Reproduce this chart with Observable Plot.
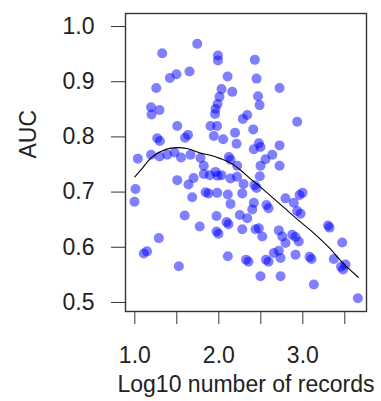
<!DOCTYPE html>
<html>
<head>
<meta charset="utf-8">
<script src="https://cdn.jsdelivr.net/npm/d3@7"></script>
<script src="https://cdn.jsdelivr.net/npm/@observablehq/plot@0.6"></script>
<style>
  html, body { margin: 0; padding: 0; background: #fff; }
  #chart svg { display: block; }
</style>
</head>
<body>
<div id="chart"></div>
<script>
// Per-dataset model performance: log10 of the number of records vs AUC
const logRecords = [
  1.743, 1.326, 1.990, 1.990, 2.429, 1.651, 1.496, 1.417, 2.104, 2.449,
  1.255, 2.032, 2.160, 2.723, 2.008, 2.467, 2.485, 1.985, 1.193, 1.294,
  1.199, 1.961, 1.955, 2.338, 2.286, 2.933, 1.505, 1.901, 1.979, 2.410,
  1.633, 1.598, 2.193, 1.940, 2.052, 1.267, 1.298, 2.211, 2.476, 2.417,
  2.496, 2.723, 1.036, 1.193, 1.294, 1.386, 1.473, 1.550, 1.663, 1.782,
  2.119, 2.139, 2.636, 2.556, 1.821, 2.219, 2.496, 2.723, 1.821, 1.893,
  1.961, 1.985, 2.032, 2.488, 2.139, 2.217, 2.294, 2.425, 2.449, 1.008,
  0.996, 1.505, 1.639, 1.699, 1.683, 1.842, 1.877, 1.981, 2.107, 2.279,
  2.139, 2.417, 2.398, 2.568, 2.592, 2.794, 2.893, 2.961, 2.996, 2.933,
  2.973, 1.594, 1.973, 2.092, 2.115, 2.250, 2.338, 1.773, 1.973, 1.996,
  2.279, 2.437, 2.476, 2.517, 2.714, 2.755, 2.794, 2.874, 2.913, 2.952,
  3.300, 3.318, 3.469, 1.286, 1.107, 1.145, 1.524, 2.107, 2.324, 2.354,
  2.562, 2.592, 2.714, 2.655, 2.735, 2.913, 3.080, 3.104, 3.369, 3.508,
  3.455, 3.479, 2.496, 2.735, 3.131, 3.655
];
const auc = [
  0.965, 0.948, 0.944, 0.935, 0.936, 0.915, 0.910, 0.903, 0.906, 0.902,
  0.885, 0.883, 0.878, 0.885, 0.869, 0.870, 0.854, 0.856, 0.850, 0.845,
  0.837, 0.847, 0.838, 0.836, 0.829, 0.824, 0.816, 0.816, 0.816, 0.810,
  0.800, 0.795, 0.804, 0.798, 0.792, 0.794, 0.789, 0.784, 0.785, 0.774,
  0.778, 0.781, 0.757, 0.764, 0.761, 0.764, 0.768, 0.759, 0.764, 0.758,
  0.760, 0.755, 0.764, 0.756, 0.744, 0.744, 0.744, 0.744, 0.729, 0.727,
  0.733, 0.726, 0.727, 0.725, 0.721, 0.724, 0.711, 0.709, 0.704, 0.702,
  0.679, 0.718, 0.710, 0.722, 0.687, 0.696, 0.694, 0.695, 0.692, 0.694,
  0.675, 0.677, 0.665, 0.673, 0.667, 0.685, 0.677, 0.691, 0.695, 0.662,
  0.657, 0.654, 0.653, 0.642, 0.638, 0.655, 0.649, 0.634, 0.625, 0.621,
  0.629, 0.629, 0.631, 0.616, 0.627, 0.616, 0.604, 0.619, 0.615, 0.607,
  0.636, 0.632, 0.605, 0.613, 0.585, 0.589, 0.562, 0.580, 0.574, 0.570,
  0.574, 0.570, 0.590, 0.586, 0.577, 0.583, 0.579, 0.575, 0.575, 0.565,
  0.561, 0.556, 0.544, 0.544, 0.529, 0.504
];

// Smoothed trend (local regression fit)
const trendX = [1.00, 1.07, 1.19, 1.31, 1.43, 1.51, 1.63, 1.78, 1.90, 2.02, 2.14,
                2.26, 2.38, 2.50, 2.62, 2.77, 2.95, 3.13, 3.31, 3.47, 3.66];
const trendY = [0.724, 0.736, 0.758, 0.770, 0.776, 0.777, 0.775, 0.767, 0.763, 0.757, 0.749,
                0.736, 0.720, 0.705, 0.689, 0.669, 0.645, 0.622, 0.596, 0.569, 0.542];

// Axis ticks and labels
const xTicks = [1.0, 1.5, 2.0, 2.5, 3.0, 3.5];
const xTickLabels = ["1.0", "", "2.0", "", "3.0", ""];
const yTicks = [0.5, 0.6, 0.7, 0.8, 0.9, 1.0];
const yTickLabels = ["0.5", "0.6", "0.7", "0.8", "0.9", "1.0"];
const xTitle = "Log10 number of records";
const yTitle = "AUC";

const ink = "#222";

const chart = Plot.plot({
  width: 381,
  height: 401,
  marginLeft: 125,
  marginRight: 15,
  marginTop: 13,
  marginBottom: 90,
  style: {
    fontFamily: "'Liberation Sans', Arial, sans-serif",
    fontSize: "23px",
    color: ink,
    background: "#fff"
  },
  x: {domain: [0.889, 3.758]},
  y: {domain: [0.48, 1.02]},
  marks: [
    Plot.dot(auc, {
      x: logRecords,
      y: auc,
      r: 5,
      fill: "#0000ff",
      fillOpacity: 0.5,
      stroke: "none"
    }),
    Plot.line(trendY, {x: trendX, y: trendY, stroke: "#000", strokeWidth: 1.1, curve: "monotone-x"}),
    Plot.frame({stroke: "#333", strokeWidth: 1.4}),
    Plot.axisX({
      ticks: xTicks,
      tickFormat: (d) => xTickLabels[xTicks.indexOf(d)],
      tickSize: 13,
      tickPadding: 22,
      stroke: "#333",
      label: null
    }),
    Plot.axisY({
      ticks: yTicks,
      tickFormat: (d) => yTickLabels[yTicks.indexOf(d)],
      tickSize: 14,
      tickPadding: 17,
      stroke: "#333",
      dy: 2,
      label: null
    }),
    Plot.text([xTitle], {
      text: (d) => d,
      frameAnchor: "bottom",
      dy: 80,
      fill: ink
    }),
    Plot.text([yTitle], {
      text: (d) => d,
      frameAnchor: "left",
      dx: -96.5,
      dy: -4,
      rotate: -90,
      fill: ink
    })
  ]
});

document.getElementById("chart").appendChild(chart);
</script>
</body>
</html>
